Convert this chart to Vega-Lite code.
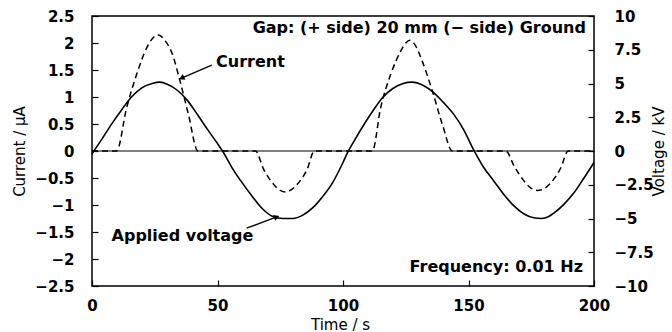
{
  "$schema": "https://vega.github.io/schema/vega-lite/v6.json",
  "width": 502,
  "height": 270,
  "autosize": {"type": "none"},
  "padding": {"left": 92, "top": 16, "right": 78, "bottom": 46},
  "background": "white",
  "config": {
    "view": {"stroke": "#000", "strokeWidth": 1.5},
    "axis": {
      "grid": false,
      "domain": false,
      "labelFont": "DejaVu Sans",
      "labelFontWeight": "bold",
      "labelFontSize": 15,
      "labelColor": "#000",
      "labelFlush": false,
      "tickColor": "#000",
      "tickWidth": 1.2,
      "titleFont": "DejaVu Sans",
      "titleFontWeight": "normal",
      "titleFontSize": 15,
      "titleColor": "#000"
    }
  },
  "datasets": {
    "zero": [{"t": 0, "i": 0}, {"t": 200, "i": 0}],
    "current": [
      {"t": 0, "i": 0}, {"t": 9.8, "i": 0}, {"t": 13.8, "i": 0.8}, {"t": 17.8, "i": 1.42},
      {"t": 21.8, "i": 1.91}, {"t": 24, "i": 2.08}, {"t": 26.5, "i": 2.15}, {"t": 29, "i": 2.05},
      {"t": 31.8, "i": 1.82}, {"t": 35.1, "i": 1.29}, {"t": 38.4, "i": 0.68}, {"t": 42.2, "i": 0},
      {"t": 65.1, "i": 0}, {"t": 68.4, "i": -0.34}, {"t": 72.4, "i": -0.62}, {"t": 75, "i": -0.73},
      {"t": 77, "i": -0.76}, {"t": 79, "i": -0.73}, {"t": 81.7, "i": -0.62}, {"t": 85.7, "i": -0.34},
      {"t": 88.6, "i": 0}, {"t": 111.7, "i": 0}, {"t": 115, "i": 0.8}, {"t": 119, "i": 1.42},
      {"t": 123, "i": 1.85}, {"t": 125, "i": 2.0}, {"t": 126.7, "i": 2.05}, {"t": 128.5, "i": 1.98},
      {"t": 131.6, "i": 1.66}, {"t": 135.6, "i": 1.11}, {"t": 139.6, "i": 0.49}, {"t": 143.6, "i": 0},
      {"t": 164.9, "i": 0}, {"t": 168.2, "i": -0.28}, {"t": 172.2, "i": -0.56}, {"t": 175, "i": -0.69},
      {"t": 177.5, "i": -0.73}, {"t": 180, "i": -0.7}, {"t": 182.8, "i": -0.59}, {"t": 186.8, "i": -0.31},
      {"t": 189.7, "i": 0}, {"t": 200, "i": 0}
    ],
    "voltage": [
      {"t": 0, "v": -0.2}, {"t": 4, "v": 0.9}, {"t": 8, "v": 2.05}, {"t": 12, "v": 3.1},
      {"t": 16, "v": 4.05}, {"t": 20, "v": 4.7}, {"t": 24, "v": 5.0}, {"t": 27, "v": 5.1},
      {"t": 30, "v": 4.95}, {"t": 34, "v": 4.5}, {"t": 38, "v": 3.75}, {"t": 42, "v": 2.7},
      {"t": 46, "v": 1.6}, {"t": 50, "v": 0.55}, {"t": 52, "v": 0}, {"t": 56, "v": -1.3},
      {"t": 60, "v": -2.4}, {"t": 64, "v": -3.4}, {"t": 68, "v": -4.3}, {"t": 72, "v": -4.85},
      {"t": 76, "v": -5.0}, {"t": 80, "v": -5.0}, {"t": 84, "v": -4.75}, {"t": 88, "v": -4.2},
      {"t": 92, "v": -3.35}, {"t": 96, "v": -2.3}, {"t": 100, "v": -0.85}, {"t": 102, "v": -0.05},
      {"t": 104, "v": 0.6}, {"t": 108, "v": 1.85}, {"t": 112, "v": 3.0}, {"t": 116, "v": 4.0},
      {"t": 120, "v": 4.65}, {"t": 124, "v": 5.0}, {"t": 127.5, "v": 5.1}, {"t": 132, "v": 4.85},
      {"t": 136, "v": 4.35}, {"t": 140, "v": 3.6}, {"t": 144, "v": 2.75}, {"t": 148, "v": 1.6},
      {"t": 152, "v": 0.1}, {"t": 156, "v": -1.2}, {"t": 160, "v": -2.2}, {"t": 164, "v": -3.2},
      {"t": 168, "v": -4.05}, {"t": 172, "v": -4.65}, {"t": 176, "v": -4.95}, {"t": 179, "v": -5.0},
      {"t": 182, "v": -4.85}, {"t": 184, "v": -4.6}, {"t": 188, "v": -3.95}, {"t": 192, "v": -3.1},
      {"t": 196, "v": -2.0}, {"t": 200, "v": -0.85}
    ],
    "notesLeft": [
      {"t": 49.4, "i": 1.65, "label": "Current"},
      {"t": 7.8, "i": -1.57, "label": "Applied voltage"}
    ],
    "notesRight": [
      {"t": 196.8, "i": 2.27, "label": "Gap: (+ side) 20 mm  (− side) Ground"},
      {"t": 195.6, "i": -2.14, "label": "Frequency: 0.01 Hz"}
    ],
    "arrows": [
      {"t": 47.7, "i": 1.59, "t2": 35.7, "i2": 1.35},
      {"t": 61.6, "i": -1.43, "t2": 73.6, "i2": -1.22}
    ],
    "heads": [
      {"t": 35.7, "i": 1.35, "angle": 156},
      {"t": 73.6, "i": -1.22, "angle": 339}
    ]
  },
  "encoding": {
    "x": {
      "field": "t", "type": "quantitative",
      "scale": {"domain": [0, 200], "nice": false},
      "axis": {
        "orient": "bottom",
        "values": [0, 50, 100, 150, 200],
        "format": "d",
        "tickSize": -6,
        "labelPadding": 18,
        "title": "Time / s",
        "titleX": 248,
        "titleY": 38,
        "titleBaseline": "middle"
      }
    }
  },
  "layer": [
    {
      "encoding": {
        "y": {
          "field": "i", "type": "quantitative",
          "scale": {"domain": [-2.5, 2.5], "nice": false, "zero": false},
          "axis": {
            "orient": "left",
            "values": [-2.5, -2, -1.5, -1, -0.5, 0, 0.5, 1, 1.5, 2, 2.5],
            "format": ".2~f",
            "tickSize": -6,
            "labelPadding": 24,
            "title": "Current / μA",
            "titleX": -73,
            "titleY": 135,
            "titleAngle": -90,
            "titleAlign": "center",
            "titleBaseline": "middle"
          }
        }
      },
      "layer": [
        {
          "data": {"name": "zero"},
          "mark": {"type": "line", "color": "#000", "strokeWidth": 1}
        },
        {
          "data": {"name": "current"},
          "mark": {"type": "line", "color": "#000", "strokeWidth": 1.5, "strokeDash": [6, 4], "interpolate": "monotone"}
        },
        {
          "data": {"name": "notesLeft"},
          "mark": {"type": "text", "font": "DejaVu Sans", "fontWeight": "bold", "fontSize": 16, "color": "#000", "baseline": "middle", "align": "left"},
          "encoding": {"text": {"field": "label"}}
        },
        {
          "data": {"name": "notesRight"},
          "mark": {"type": "text", "font": "DejaVu Sans", "fontWeight": "bold", "fontSize": 16, "color": "#000", "baseline": "middle", "align": "right"},
          "encoding": {"text": {"field": "label"}}
        },
        {
          "data": {"name": "arrows"},
          "mark": {"type": "rule", "color": "#000", "strokeWidth": 1.3},
          "encoding": {
            "x2": {"field": "t2"},
            "y2": {"field": "i2"}
          }
        },
        {
          "data": {"name": "heads"},
          "mark": {"type": "point", "shape": "triangle-right", "filled": true, "color": "#000", "size": 40, "opacity": 1},
          "encoding": {
            "angle": {"field": "angle", "type": "quantitative", "scale": null}
          }
        }
      ]
    },
    {
      "data": {"name": "voltage"},
      "mark": {"type": "line", "color": "#000", "strokeWidth": 1.6, "interpolate": "monotone"},
      "encoding": {
        "y": {
          "field": "v", "type": "quantitative",
          "scale": {"domain": [-10, 10], "nice": false, "zero": false},
          "axis": {
            "orient": "right",
            "values": [-10, -7.5, -5, -2.5, 0, 2.5, 5, 7.5, 10],
            "format": ".2~f",
            "tickSize": -6,
            "labelPadding": 26,
            "title": "Voltage / kV",
            "titleX": 64,
            "titleY": 135,
            "titleAngle": -90,
            "titleAlign": "center",
            "titleBaseline": "middle"
          }
        }
      }
    }
  ],
  "resolve": {"scale": {"y": "independent"}}
}
